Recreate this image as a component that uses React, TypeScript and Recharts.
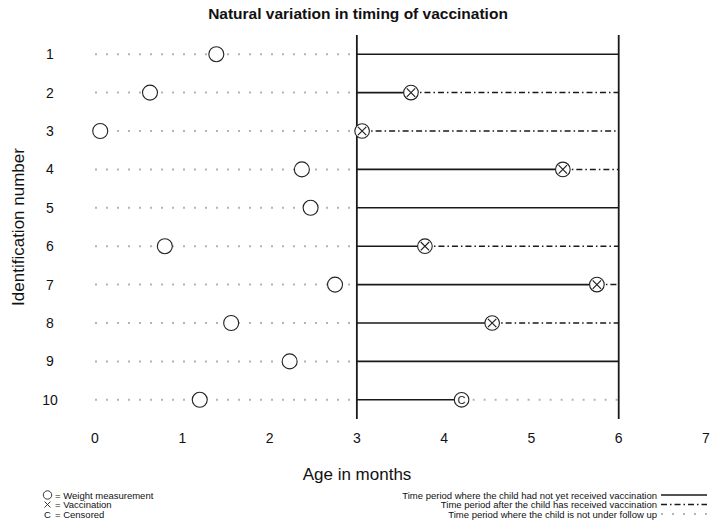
import { ComposedChart, Line, Scatter, XAxis, YAxis } from "recharts";

const rowIds = [1, 2, 3, 4, 5, 6, 7, 8, 9, 10];
const weightAges = [1.39, 0.63, 0.06, 2.37, 2.47, 0.8, 2.75, 1.56, 2.23, 1.2];
const vaccAges: (number | null)[] = [null, 3.62, 3.06, 5.36, null, 3.78, 5.75, 4.55, null, null];
const censorAges: (number | null)[] = [null, null, null, null, null, null, null, null, null, 4.2];
const xTicks = [0, 1, 2, 3, 4, 5, 6, 7];
const followStart = 3;
const followEnd = 6;

const FONT = '"Liberation Sans", Arial, Helvetica, sans-serif';
const DOTTED = { stroke: "#b4b4b4", strokeWidth: 2, strokeDasharray: "2 9" };
const SOLID = { stroke: "#1a1a1a", strokeWidth: 1.6 };
const DASHDOT = { stroke: "#1a1a1a", strokeWidth: 1.5, strokeDasharray: "6 3 1.5 3" };

type Seg = { key: string; pts: { x: number; y: number }[]; style: any };

const segments: Seg[] = [];
rowIds.forEach((id, i) => {
  const v = vaccAges[i];
  const c = censorAges[i];
  const end = v ?? c ?? followEnd;
  segments.push({ key: `pre${id}`, pts: [{ x: 0, y: id }, { x: followStart, y: id }], style: DOTTED });
  segments.push({ key: `sol${id}`, pts: [{ x: followStart, y: id }, { x: end, y: id }], style: SOLID });
  if (v != null) segments.push({ key: `dd${id}`, pts: [{ x: v, y: id }, { x: followEnd, y: id }], style: DASHDOT });
  if (c != null) segments.push({ key: `cen${id}`, pts: [{ x: c, y: id }, { x: followEnd, y: id }], style: DOTTED });
});

const weightPts = rowIds.map((id, i) => ({ x: weightAges[i], y: id }));
const vaccPts = rowIds.filter((_, i) => vaccAges[i] != null).map((id) => ({ x: vaccAges[id - 1] as number, y: id }));
const censorPts = rowIds.filter((_, i) => censorAges[i] != null).map((id) => ({ x: censorAges[id - 1] as number, y: id }));

const WeightMark = (p: any) => (
  <circle cx={p.cx} cy={p.cy} r={7.5} fill="#fff" stroke="#222" strokeWidth={1.1} />
);

const VaccMark = (p: any) => (
  <g>
    <circle cx={p.cx} cy={p.cy} r={7.3} fill="#fff" stroke="#222" strokeWidth={1.1} />
    <path
      d={`M${p.cx - 4.2},${p.cy - 4.2}L${p.cx + 4.2},${p.cy + 4.2}M${p.cx + 4.2},${p.cy - 4.2}L${p.cx - 4.2},${p.cy + 4.2}`}
      stroke="#222"
      strokeWidth={1.2}
    />
  </g>
);

const CensorMark = (p: any) => (
  <g>
    <circle cx={p.cx} cy={p.cy} r={7.3} fill="#fff" stroke="#222" strokeWidth={1.1} />
    <text x={p.cx} y={p.cy + 4} textAnchor="middle" fontSize={11} fontFamily={FONT} fill="#222">
      C
    </text>
  </g>
);

const XTick = (p: any) => (
  <text x={p.x} y={p.y + 16} textAnchor="middle" fontSize={14} fontFamily={FONT} fill="#111">
    {p.payload.value}
  </text>
);

const YTick = (p: any) => (
  <text x={50} y={p.y + 5} textAnchor="middle" fontSize={14} fontFamily={FONT} fill="#111">
    {p.payload.value}
  </text>
);

const legendLeft = ["= Weight measurement", "= Vaccination", "= Censored"];
const legendRight = [
  { text: "Time period where the child had not yet received vaccination", style: SOLID },
  { text: "Time period after the child has received vaccination", style: DASHDOT },
  { text: "Time period where the child is not under follow up", style: DOTTED },
];

const LEG_Y = 495;
const LEG_STEP = 9.5;

export default function App() {
  return (
    <div style={{ position: "absolute", left: 0, top: 0, width: 711, height: 521, background: "#fff" }}>
      <ComposedChart width={711} height={521} margin={{ top: 35, right: 5, bottom: 72, left: 0 }}>
        <XAxis
          type="number"
          dataKey="x"
          domain={[0, 7]}
          ticks={xTicks}
          axisLine={false}
          tickLine={false}
          height={30}
          tick={<XTick />}
          interval={0}
        />
        <YAxis
          type="number"
          dataKey="y"
          domain={[0.5, 10.5]}
          ticks={rowIds}
          reversed
          axisLine={false}
          tickLine={false}
          width={95}
          tick={<YTick />}
          interval={0}
        />
        {segments.map((s) => (
          <Line
            key={s.key}
            data={s.pts}
            dataKey="y"
            dot={false}
            activeDot={false}
            isAnimationActive={false}
            {...s.style}
          />
        ))}
        {[followStart, followEnd].map((xv) => (
          <Line
            key={`v${xv}`}
            data={[{ x: xv, y: 0.5 }, { x: xv, y: 10.5 }]}
            dataKey="y"
            dot={false}
            activeDot={false}
            isAnimationActive={false}
            stroke="#1a1a1a"
            strokeWidth={1.8}
          />
        ))}
        <Scatter data={weightPts} dataKey="y" shape={<WeightMark />} isAnimationActive={false} />
        <Scatter data={vaccPts} dataKey="y" shape={<VaccMark />} isAnimationActive={false} />
        <Scatter data={censorPts} dataKey="y" shape={<CensorMark />} isAnimationActive={false} />
      </ComposedChart>
      <svg width={711} height={521} style={{ position: "absolute", left: 0, top: 0, pointerEvents: "none" }}>
        <text x={358} y={19} textAnchor="middle" fontSize={15.5} fontWeight="bold" fontFamily={FONT} fill="#111">
          Natural variation in timing of vaccination
        </text>
        <text
          x={24}
          y={227}
          transform="rotate(-90 24 227)"
          textAnchor="middle"
          fontSize={17}
          fontFamily={FONT}
          fill="#111"
        >
          Identification number
        </text>
        <text x={357} y={480} textAnchor="middle" fontSize={17} fontFamily={FONT} fill="#111">
          Age in months
        </text>
        {/* left legend symbols */}
        <circle cx={47.5} cy={LEG_Y} r={4.2} fill="none" stroke="#222" strokeWidth={0.9} />
        <path
          d={`M44.5,${LEG_Y + LEG_STEP - 3}L50.5,${LEG_Y + LEG_STEP + 3}M50.5,${LEG_Y + LEG_STEP - 3}L44.5,${LEG_Y + LEG_STEP + 3}`}
          stroke="#222"
          strokeWidth={0.9}
        />
        <text x={47.5} y={LEG_Y + 2 * LEG_STEP + 3.5} textAnchor="middle" fontSize={9.5} fontFamily={FONT} fill="#111">
          C
        </text>
        {legendLeft.map((t, i) => (
          <text key={t} x={55} y={LEG_Y + i * LEG_STEP + 3.5} fontSize={9.5} fontFamily={FONT} fill="#111">
            {t}
          </text>
        ))}
        {legendRight.map((l, i) => (
          <g key={l.text}>
            <text x={657} y={LEG_Y + i * LEG_STEP + 3.5} textAnchor="end" fontSize={9.5} fontFamily={FONT} fill="#111">
              {l.text}
            </text>
            <line x1={661} x2={707} y1={LEG_Y + i * LEG_STEP} y2={LEG_Y + i * LEG_STEP} {...l.style} />
          </g>
        ))}
      </svg>
    </div>
  );
}
